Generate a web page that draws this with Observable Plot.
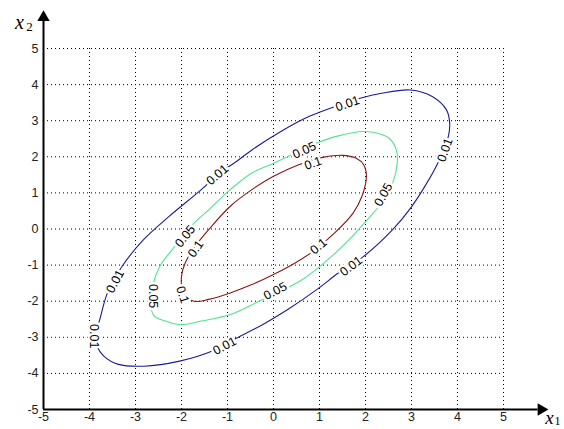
<!DOCTYPE html>
<html>
<head>
<meta charset="utf-8">
<script src="https://cdn.jsdelivr.net/npm/d3@7"></script>
<script src="https://cdn.jsdelivr.net/npm/@observablehq/plot@0.6"></script>
<style>
  body { margin: 0; background: #fff; }
  #chart svg { display: block; }
</style>
</head>
<body>
<div id="chart"></div>
<script>
// Axis ticks
const ticks = [-5, -4, -3, -2, -1, 0, 1, 2, 3, 4, 5];
const gridTicks = [-4, -3, -2, -1, 0, 1, 2, 3, 4, 5];

// Contour level 0.01 (blue)
const level001 = [
  [2.98, 3.85], [3.45, 3.67], [3.76, 3.30], [3.83, 2.93], [3.80, 2.56], [3.59, 1.87],
  [3.29, 1.18], [2.98, 0.58], [2.59, -0.02], [1.96, -0.76], [1.41, -1.22], [0.94, -1.68],
  [0.31, -2.23], [-0.24, -2.65], [-0.86, -3.06], [-1.33, -3.38], [-2.04, -3.66],
  [-2.82, -3.80], [-3.37, -3.75], [-3.69, -3.52], [-3.84, -3.24], [-3.90, -2.90],
  [-3.80, -2.60], [-3.61, -1.77], [-3.29, -1.03], [-2.82, -0.29], [-2.27, 0.35],
  [-1.57, 1.09], [-1.18, 1.55], [-0.86, 1.82], [-0.47, 2.19], [0.16, 2.70],
  [0.78, 3.12], [1.33, 3.39], [1.88, 3.62], [2.35, 3.76]
];

// Contour level 0.05 (green)
const level005 = [
  [1.96, 2.70], [2.27, 2.65], [2.51, 2.52], [2.67, 2.19], [2.69, 1.82], [2.59, 1.27],
  [2.35, 0.72], [2.04, 0.26], [1.65, -0.29], [1.10, -0.94], [0.63, -1.40], [0.08, -1.77],
  [-0.31, -2.00], [-0.94, -2.37], [-1.57, -2.55], [-2.04, -2.65], [-2.35, -2.55],
  [-2.59, -2.41], [-2.67, -2.14], [-2.63, -1.59], [-2.47, -1.03], [-2.20, -0.57],
  [-1.80, 0.07], [-1.41, 0.53], [-0.94, 1.09], [-0.47, 1.55], [0.00, 1.82],
  [0.47, 2.10], [0.94, 2.38], [1.41, 2.58]
];

// Contour level 0.1 (red)
const level010 = [
  [1.49, 2.04], [1.80, 1.96], [1.96, 1.78], [2.02, 1.46], [1.92, 0.90], [1.73, 0.44],
  [1.33, -0.11], [0.86, -0.62], [0.47, -0.94], [0.00, -1.26], [-0.47, -1.54],
  [-0.94, -1.77], [-1.41, -1.95], [-1.73, -2.00], [-1.96, -1.77], [-2.00, -1.31],
  [-1.92, -0.94], [-1.73, -0.53], [-1.41, -0.02], [-0.94, 0.63], [-0.47, 1.09],
  [0.00, 1.46], [0.55, 1.78], [1.10, 1.99]
];

// Contour labels: [x, y, text, angle]
const labels001 = [
  [1.61, 3.47, "0.01", -19], [-1.22, 1.50, "0.01", -40], [-3.44, -1.45, "0.01", -62],
  [-3.90, -2.97, "0.01", 90], [-1.06, -3.24, "0.01", -28], [1.69, -1.03, "0.01", -38],
  [3.73, 2.19, "0.01", -70]
];
const labels005 = [
  [0.67, 2.18, "0.05", -25], [-1.92, -0.20, "0.05", -51], [-2.63, -1.86, "0.05", 90],
  [0.04, -1.72, "0.05", -27], [2.39, 0.95, "0.05", -61]
];
const labels010 = [
  [0.86, 1.82, "0.1", -20], [-1.69, -0.55, "0.1", -55], [-1.98, -1.82, "0.1", 72],
  [0.98, -0.48, "0.1", -40]
];

const colors = { c001: "#1c1c96", c005: "#52e391", c010: "#8c1616" };

const lineOpts = (stroke) => ({
  x: d => d[0], y: d => d[1], stroke, strokeWidth: 1.1, curve: "catmull-rom-closed"
});
const labelOpts = {
  x: d => d[0], y: d => d[1], text: d => d[2], rotate: d => d[3],
  fill: "black", stroke: "white", strokeWidth: 5, paintOrder: "stroke",
  fontSize: 12.5, fontFamily: "Liberation Sans, Arial, sans-serif"
};
const serif = "Liberation Serif, Times New Roman, serif";

const chart = Plot.plot({
  width: 564,
  height: 429,
  marginLeft: 43,
  marginRight: 61,
  marginTop: 48,
  marginBottom: 20,
  style: { fontFamily: "Liberation Sans, Arial, sans-serif", fontSize: "12.5px", background: "white", color: "#222" },
  x: { domain: [-5, 5], ticks: ticks, tickSize: 0, tickPadding: 3, label: null, tickFormat: d => String(d) },
  y: { domain: [-5, 5], ticks: ticks, tickSize: 0, tickPadding: 5, label: null, tickFormat: d => String(d) },
  marks: [
    Plot.ruleX(gridTicks, { y1: -5, y2: 5, stroke: "#000", strokeWidth: 1, strokeDasharray: "1,3" }),
    Plot.ruleY(gridTicks, { x1: -5, x2: 5, stroke: "#000", strokeWidth: 1, strokeDasharray: "1,3" }),
    Plot.axisX({ ticks: ticks, tickSize: 0, tickPadding: 3, label: null, tickFormat: d => String(d), fill: "#222" }),
    Plot.axisY({ ticks: ticks, tickSize: 0, tickPadding: 5, label: null, tickFormat: d => String(d), fill: "#222" }),
    Plot.line(level001, lineOpts(colors.c001)),
    Plot.line(level005, lineOpts(colors.c005)),
    Plot.line(level010, lineOpts(colors.c010)),
    Plot.text(labels001, labelOpts),
    Plot.text(labels005, labelOpts),
    Plot.text(labels010, labelOpts),
    // Axes lines with arrowheads
    Plot.ruleX([-5], { y1: -5, y2: 5.8, stroke: "black", strokeWidth: 2 }),
    Plot.ruleY([-5], { x1: -5, x2: 5.75, stroke: "black", strokeWidth: 2 }),
    Plot.dot([[-5, 5.86]], { x: d => d[0], y: d => d[1], symbol: "triangle", r: 4.6, fill: "black", stroke: null }),
    Plot.dot([[5.82, -5]], { x: d => d[0], y: d => d[1], symbol: "triangle", r: 4.6, fill: "black", stroke: null, rotate: 90 }),
    // Axis titles x2 and x1
    Plot.text([[-5, 5.71]], { x: d => d[0], y: d => d[1], text: () => "x", dx: -24, fontFamily: serif, fontStyle: "italic", fontSize: 20, fill: "black" }),
    Plot.text([[-5, 5.71]], { x: d => d[0], y: d => d[1], text: () => "2", dx: -14, dy: 4, fontFamily: serif, fontSize: 13, fill: "black" }),
    Plot.text([[5, -5]], { x: d => d[0], y: d => d[1], text: () => "x", dx: 46, dy: 8, fontFamily: serif, fontStyle: "italic", fontSize: 19, fill: "black" }),
    Plot.text([[5, -5]], { x: d => d[0], y: d => d[1], text: () => "1", dx: 54, dy: 12, fontFamily: serif, fontSize: 12, fill: "black" })
  ]
});
document.getElementById("chart").appendChild(chart);
</script>
</body>
</html>
